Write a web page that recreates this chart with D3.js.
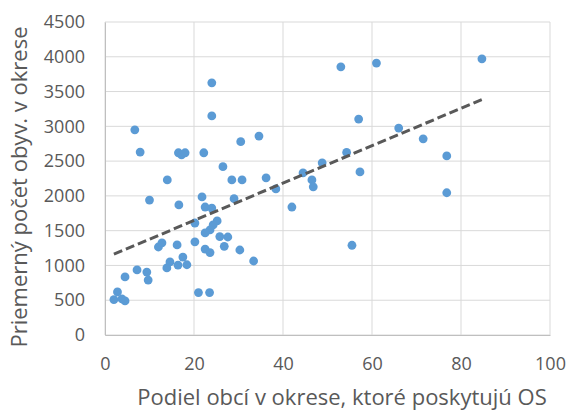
<!DOCTYPE html>
<html>
<head>
<meta charset="utf-8">
<script src="https://cdn.jsdelivr.net/npm/d3@7"></script>
<style>
  body { margin: 0; background: #fff; }
  text { font-family: "Open Sans", "Liberation Sans", sans-serif; fill: #595959; }
</style>
</head>
<body>
<svg id="chart" width="569" height="411"></svg>
<script>
// podiel obcí (%) poskytujúcich OS
const podiel = [6.7, 7.9, 16.5, 17.2, 18.0, 22.2, 14.0, 10.0, 16.6, 21.8,
  20.2, 12.0, 12.8, 16.2, 20.2, 14.6, 13.9, 16.4, 17.5, 18.4,
  7.2, 9.4, 9.7, 4.5, 2.0, 2.8, 3.8, 4.5, 21.0, 23.5,
  24.0, 24.0, 30.5, 34.6, 26.5, 28.5, 30.8, 36.2, 29.0, 38.4,
  44.5, 46.5, 46.8, 48.8, 53.0, 57.0, 54.3, 57.3, 61.0, 84.7,
  66.0, 71.5, 76.8, 76.8, 42.0, 55.5, 22.5, 24.0, 25.2, 24.3,
  23.6, 22.5, 25.8, 27.6, 26.8, 22.5, 23.6, 30.3, 33.4];
// priemerný počet obyvateľov obce v okrese
const obyv = [2950, 2630, 2620, 2590, 2620, 2620, 2230, 1940, 1870, 1985,
  1610, 1265, 1325, 1295, 1340, 1050, 965, 1005, 1120, 1010,
  935, 905, 790, 835, 510, 620, 520, 490, 610, 610,
  3625, 3150, 2780, 2860, 2420, 2230, 2230, 2260, 1960, 2100,
  2330, 2230, 2130, 2475, 3855, 3105, 2625, 2345, 3910, 3970,
  2975, 2820, 2575, 2045, 1840, 1290, 1840, 1825, 1640, 1582,
  1510, 1467, 1415, 1409, 1275, 1235, 1185, 1222, 1064];

const xTicks = [0, 20, 40, 60, 80, 100];
const yTicks = [0, 500, 1000, 1500, 2000, 2500, 3000, 3500, 4000, 4500];

const svg = d3.select('#chart');
const plotL = 105, plotR = 550, plotT = 22, plotB = 335;

const x = d3.scaleLinear().domain([0, 100]).range([plotL, plotR]);
const y = d3.scaleLinear().domain([0, 4500]).range([plotB, plotT]);

// mriežka
svg.append('g').selectAll('line').data(yTicks).enter().append('line')
  .attr('x1', plotL).attr('x2', plotR)
  .attr('y1', d => y(d)).attr('y2', d => y(d))
  .attr('stroke', '#d9d9d9').attr('stroke-width', 1);
svg.append('g').selectAll('line').data(xTicks).enter().append('line')
  .attr('y1', plotT).attr('y2', plotB)
  .attr('x1', d => x(d)).attr('x2', d => x(d))
  .attr('stroke', '#d9d9d9').attr('stroke-width', 1);

// osi
const yAxis = svg.append('g').attr('transform', 'translate(' + plotL + ',0)')
  .call(d3.axisLeft(y).tickValues(yTicks).tickFormat(d3.format('d')).tickSize(0).tickPadding(20));
yAxis.select('.domain').attr('stroke', '#bfbfbf');
yAxis.selectAll('text').style('font-size', '18px').attr('fill', '#595959');

const xAxis = svg.append('g').attr('transform', 'translate(0,' + plotB + ')')
  .call(d3.axisBottom(x).tickValues(xTicks).tickFormat(d3.format('d')).tickSize(0).tickPadding(22));
xAxis.select('.domain').attr('stroke', '#bfbfbf');
xAxis.selectAll('text').style('font-size', '18px').attr('fill', '#595959');

// body
const data = podiel.map((d, i) => ({x: d, y: obyv[i]}));
svg.append('g').selectAll('circle').data(data).enter().append('circle')
  .attr('cx', d => x(d.x)).attr('cy', d => y(d.y))
  .attr('r', 4.4).attr('fill', '#5b9bd5');

// lineárny trend
const mx = d3.mean(data, d => d.x), my = d3.mean(data, d => d.y);
const slope = d3.sum(data, d => (d.x - mx) * (d.y - my)) / d3.sum(data, d => (d.x - mx) * (d.x - mx));
const icpt = my - slope * mx;
const [x0, x1] = d3.extent(podiel);
svg.append('line')
  .attr('x1', x(x0)).attr('y1', y(icpt + slope * x0))
  .attr('x2', x(x1)).attr('y2', y(icpt + slope * x1))
  .attr('stroke', '#595959').attr('stroke-width', 3)
  .attr('stroke-dasharray', '9,4');

// názvy osí
svg.append('text')
  .attr('x', 342).attr('y', 405)
  .attr('text-anchor', 'middle').style('font-size', '22px')
  .text('Podiel obcí v okrese, ktoré poskytujú OS');
svg.append('text')
  .attr('transform', 'translate(27,187) rotate(-90)')
  .attr('text-anchor', 'middle').style('font-size', '22px')
  .text('Priemerný počet obyv. v okrese');
</script>
</body>
</html>
